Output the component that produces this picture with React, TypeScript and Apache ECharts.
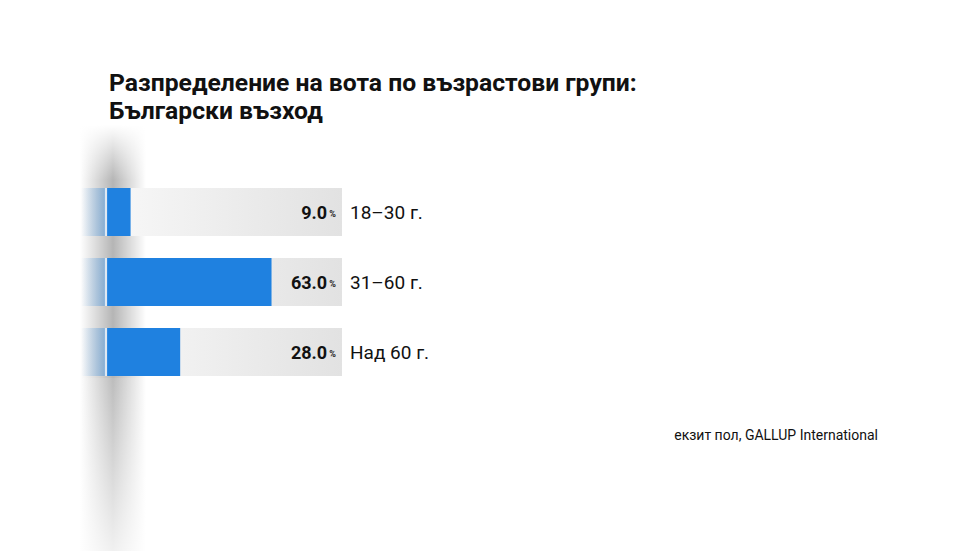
import React, { useEffect, useRef } from "react";
import * as echarts from "echarts";

const categories: string[] = ["18–30 г.", "31–60 г.", "Над 60 г."];
const values: number[] = [9.0, 63.0, 28.0];
const trackValues: number[] = [90, 90, 90];
const fadeValues: number[] = [-10, -10, -10];
const titleText = "Разпределение на вота по възрастови групи:\nБългарски възход";
const sourceText = "екзит пол, GALLUP International";

const FONT = "Roboto, 'Noto Sans', sans-serif";

export default function App() {
  const ref = useRef<HTMLDivElement>(null);
  useEffect(() => {
    if (!ref.current) return;
    const chart = echarts.init(ref.current, undefined, { renderer: "svg" });
    const option: any = {
      animation: false,
      backgroundColor: "#ffffff",
      title: {
        text: titleText,
        left: 104,
        top: 63,
        textStyle: {
          fontFamily: FONT,
          fontSize: 24.7,
          fontWeight: "bold",
          color: "#111111",
          lineHeight: 28,
        },
      },
      graphic: [
        {
          type: "rect",
          z: -10,
          shape: { x: 80, y: 125, width: 66, height: 426 },
          style: {
            fill: {
              type: "linear",
              x: 0, y: 0, x2: 1, y2: 0,
              colorStops: [
                { offset: 0, color: "rgba(0,0,0,0)" },
                { offset: 0.5, color: "rgba(0,0,0,0.29)" },
                { offset: 1, color: "rgba(0,0,0,0)" },
              ],
            },
          },
        },
        {
          type: "rect",
          z: -9,
          shape: { x: 76, y: 125, width: 74, height: 55 },
          style: {
            fill: {
              type: "linear",
              x: 0, y: 0, x2: 0, y2: 1,
              colorStops: [
                { offset: 0, color: "rgba(255,255,255,1)" },
                { offset: 1, color: "rgba(255,255,255,0)" },
              ],
            },
          },
        },
        {
          type: "rect",
          z: -9,
          shape: { x: 76, y: 378, width: 74, height: 173 },
          style: {
            fill: {
              type: "linear",
              x: 0, y: 0, x2: 0, y2: 1,
              colorStops: [
                { offset: 0, color: "rgba(255,255,255,0.1)" },
                { offset: 1, color: "rgba(255,255,255,0.8)" },
              ],
            },
          },
        },
        {
          type: "text",
          right: 980 - 878,
          top: 428,
          style: {
            text: sourceText,
            fontFamily: FONT,
            fontSize: 14,
            fill: "#111111",
          },
        },
      ],
      grid: { left: 81, width: 261, top: 177, height: 210 },
      xAxis: {
        type: "value",
        min: -10,
        max: 90,
        show: false,
      },
      yAxis: {
        type: "category",
        data: categories,
        inverse: true,
        position: "right",
        axisLine: { show: false },
        axisTick: { show: false },
        axisLabel: {
          margin: 8,
          fontFamily: FONT,
          fontSize: 19,
          color: "#111111",
          align: "left",
        },
      },
      series: [
        {
          name: "track",
          type: "bar",
          data: trackValues,
          barWidth: 48,
          barGap: "-100%",
          silent: true,
          itemStyle: {
            color: {
              type: "linear",
              x: 0, y: 0, x2: 1, y2: 0,
              colorStops: [
                { offset: 0, color: "#f8f8f8" },
                { offset: 1, color: "#e2e2e2" },
              ],
            },
          },
          label: {
            show: true,
            position: "insideRight",
            distance: 6,
            formatter: (p: any) => `{v|${values[p.dataIndex].toFixed(1)}}{p| %}`,
            rich: {
              v: {
                fontFamily: FONT,
                fontSize: 18,
                fontWeight: "bold",
                color: "#111111",
                verticalAlign: "bottom",
              },
              p: {
                fontFamily: FONT,
                fontSize: 9,
                fontWeight: "bold",
                color: "#222222",
                verticalAlign: "bottom",
                padding: [0, 0, 3, 0],
              },
            },
          },
        },
        {
          name: "fade",
          type: "bar",
          data: fadeValues,
          barWidth: 48,
          barGap: "-100%",
          silent: true,
          itemStyle: {
            color: {
              type: "linear",
              global: true,
              x: 81, y: 0, x2: 107, y2: 0,
              colorStops: [
                { offset: 0, color: "rgba(30,129,224,0)" },
                { offset: 0.9, color: "rgba(30,129,224,0.36)" },
                { offset: 0.91, color: "#dfe8f2" },
                { offset: 1, color: "#dfe8f2" },
              ],
            },
          },
        },
        {
          name: "value",
          type: "bar",
          data: values,
          barWidth: 48,
          barGap: "-100%",
          itemStyle: { color: "#1f81e0" },
        },
      ],
    };
    chart.setOption(option);
    return () => chart.dispose();
  }, []);
  return (
    <div
      ref={ref}
      style={{ position: "absolute", left: 0, top: 0, width: 980, height: 551 }}
    />
  );
}
